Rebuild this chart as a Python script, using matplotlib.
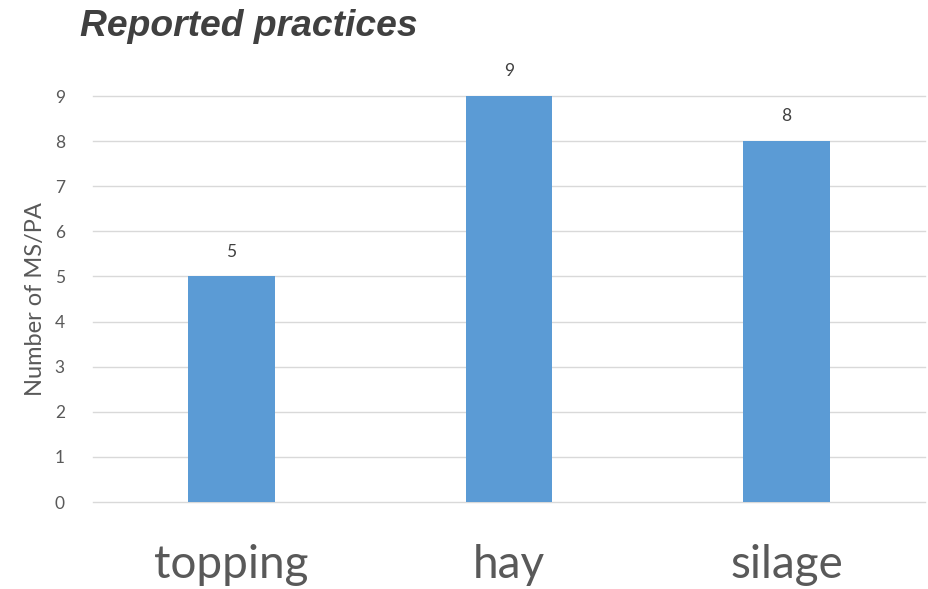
import matplotlib
matplotlib.use("Agg")
import matplotlib.pyplot as plt

categories = ["topping", "hay", "silage"]
counts = [5, 9, 8]
y_ticks = list(range(0, 10))

FONT = "Lato"
TEXT_GREY = "#595959"

fig = plt.figure(figsize=(9.29, 5.89), dpi=100)
ax = fig.add_axes([0.0998, 0.1477, 0.8962, 0.6893])

x = range(len(categories))
ax.bar(x, counts, width=0.313, color="#5B9BD5", zorder=3)
for xi, v in zip(x, counts):
    ax.text(xi, v + 0.37, str(v), ha="center", va="bottom",
            fontsize=12.5, color="#404040", family=FONT, clip_on=False)

ax.set_xlim(-0.5, len(categories) - 0.5)
ax.set_ylim(0, 9)
ax.set_yticks(y_ticks)
ax.set_yticklabels([str(t) for t in y_ticks], fontsize=12.5, color=TEXT_GREY,
                   family=FONT)
ax.set_xticks(list(x))
ax.set_xticklabels(categories, fontsize=33, color=TEXT_GREY, family=FONT)
ax.tick_params(axis="both", length=0)
ax.tick_params(axis="y", pad=20)
ax.tick_params(axis="x", pad=30)
ax.grid(axis="y", color="#D9D9D9", linewidth=1, zorder=0)
for gl in ax.get_ygridlines():
    gl.set_clip_on(False)
for s in ax.spines.values():
    s.set_visible(False)

ax.set_ylabel("Number of MS/PA", fontsize=17, color=TEXT_GREY, family=FONT,
              labelpad=6)

fig.text(0.086, 0.955, "Reported practices", fontsize=26.8, fontweight="bold",
         fontstyle="italic", color="#404040", family="Liberation Sans",
         ha="left", va="center")

fig.savefig("out.png", dpi=100, facecolor="white")
